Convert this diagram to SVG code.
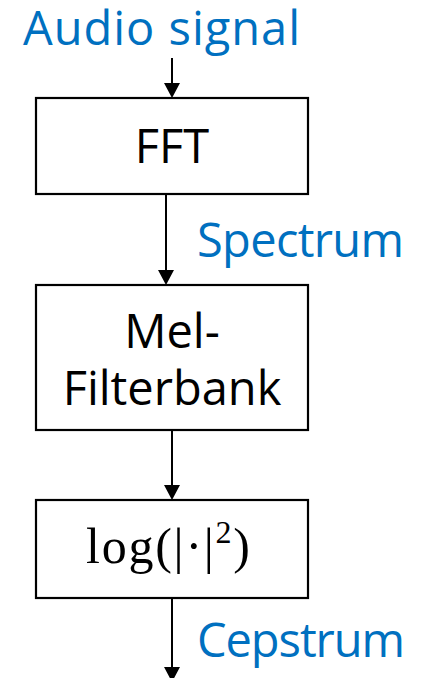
<svg xmlns="http://www.w3.org/2000/svg" width="424" height="678" viewBox="0 0 424 678">
<defs>
<style>
.box{fill:#fff;stroke:#000;stroke-width:2.2}
.lbl{font-family:"Open Sans","Noto Sans",sans-serif;font-size:47px;fill:#0070C0}
.txt{font-family:"Open Sans","Noto Sans",sans-serif;font-size:47px;fill:#000;text-anchor:middle}
.math{font-family:"Liberation Serif","DejaVu Serif",serif;font-size:50px;fill:#000}
.con{stroke:#000;stroke-width:2;fill:none}
</style>
</defs>
<g id="connectors">
<line class="con" x1="172" y1="58" x2="172" y2="84"/><path d="M164,83 L180,83 L172,98 Z"/>
<line class="con" x1="166" y1="194" x2="166" y2="271"/><path d="M158,270 L174,270 L166,285 Z"/>
<line class="con" x1="172" y1="430" x2="172" y2="486"/><path d="M164,485 L180,485 L172,500 Z"/>
<line class="con" x1="172" y1="598" x2="172" y2="668"/><path d="M164,667 L180,667 L172,682 Z"/>
</g>
<g id="label-audio"><text class="lbl" x="23" y="45" textLength="277">Audio signal</text></g>
<g id="node-fft"><rect class="box" x="36" y="98" width="272" height="96"/><text class="txt" x="172" y="163">FFT</text></g>
<g id="label-spectrum"><text class="lbl" x="197" y="257" textLength="207">Spectrum</text></g>
<g id="node-mel"><rect class="box" x="36" y="285" width="272" height="145"/><text class="txt" x="172" y="348">Mel-</text><text class="txt" x="172" y="405">Filterbank</text></g>
<g id="node-log"><rect class="box" x="36" y="500" width="272" height="98"/><text class="math" x="86" y="563" textLength="164">log(|·|<tspan font-size="32" dy="-20">2</tspan><tspan dy="20">)</tspan></text></g>
<g id="label-cepstrum"><text class="lbl" x="197" y="657" textLength="208">Cepstrum</text></g>
</svg>
